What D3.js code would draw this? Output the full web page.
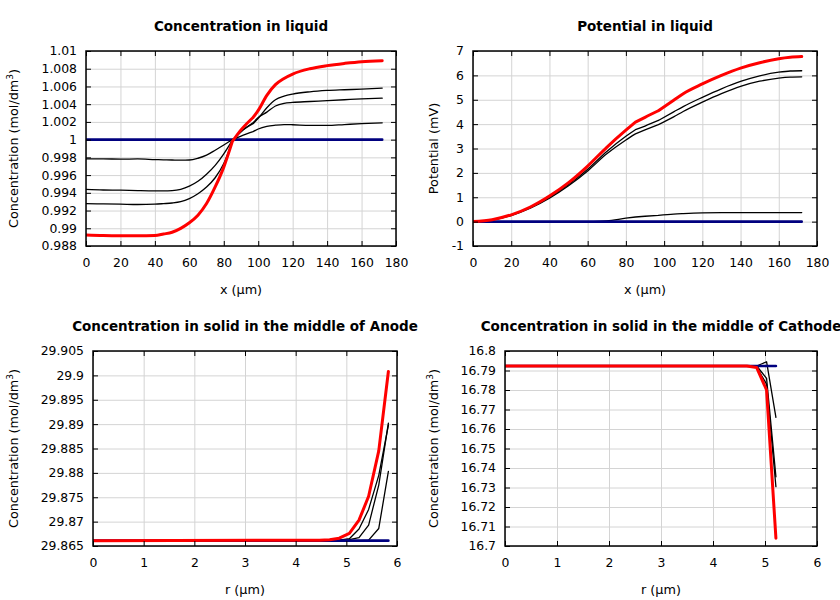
<!DOCTYPE html>
<html><head><meta charset="utf-8">
<script src="https://cdn.jsdelivr.net/npm/d3@7"></script>
<style>
body{margin:0;background:#fff;}
text{font-family:"DejaVu Sans",sans-serif;fill:#000;}
</style></head>
<body><svg id="c" width="840" height="600"></svg>
<script>
// ---------- Panel 1: Concentration in liquid ----------
const liqX = [0,10,20,30,40,45,50,55,60,65,70,75,80,85,90,97,100,105,110,115,120,130,140,150,160,172];
const liqConcRed = [0.98924,0.98918,0.98916,0.98916,0.98918,0.98935,0.98955,0.98999,0.99062,0.99148,0.99279,0.99466,0.9969,0.9998,1.0011,1.0025,1.0033,1.0050,1.0062,1.0069,1.0074,1.0080,1.00835,1.0086,1.0088,1.0089];
const liqConcA   = [0.99279,0.99275,0.99272,0.99268,0.99272,0.99278,0.99285,0.993,0.99335,0.9939,0.99465,0.9957,0.9973,0.99985,1.0009,1.0018,1.0024,1.0036,1.0045,1.0049,1.00514,1.0054,1.00555,1.00563,1.0057,1.00582];
const liqConcB   = [0.99438,0.99432,0.9943,0.99425,0.99422,0.99422,0.99425,0.9944,0.99475,0.9953,0.9961,0.9971,0.9984,0.99995,1.0009,1.0019,1.0025,1.0031,1.0038,1.0041,1.0042,1.0043,1.0044,1.0045,1.0046,1.00468];
const liqConcC   = [0.99783,0.99783,0.9978,0.99782,0.99775,0.99772,0.9977,0.99768,0.9977,0.9979,0.99825,0.9988,0.9994,1.0,1.0004,1.0009,1.0012,1.0015,1.00163,1.0017,1.00168,1.0016,1.0016,1.0017,1.0018,1.0019];
const liqConcInit = [1.0,1.0,1.0,1.0,1.0,1.0,1.0,1.0,1.0,1.0,1.0,1.0,1.0,1.0,1.0,1.0,1.0,1.0,1.0,1.0,1.0,1.0,1.0,1.0,1.0,1.0];

// ---------- Panel 2: Potential in liquid ----------
const potX = [0,10,20,30,40,50,60,70,80,85,90,97,105,110,120,130,140,150,160,166,172];
const potRed  = [0,0.08,0.28,0.6,1.05,1.6,2.28,3.05,3.75,4.08,4.28,4.55,4.98,5.25,5.65,6.0,6.3,6.52,6.68,6.74,6.77];
const potA    = [0,0.07,0.27,0.58,1.0,1.52,2.15,2.88,3.5,3.77,3.92,4.15,4.5,4.72,5.1,5.45,5.75,5.98,6.13,6.18,6.19];
const potB    = [0,0.06,0.25,0.55,0.96,1.47,2.08,2.78,3.35,3.6,3.76,3.98,4.3,4.52,4.9,5.25,5.55,5.76,5.89,5.93,5.94];
const potC    = [0,-0.01,-0.02,-0.03,-0.03,-0.02,-0.01,0.03,0.14,0.19,0.22,0.26,0.31,0.33,0.36,0.37,0.37,0.37,0.37,0.37,0.37];
const potInit = [0,0,0,0,0,0,0,0,0,0,0,0,0,0,0,0,0,0,0,0,0];

// region boundaries along x (anode | separator | cathode), µm
const regionBounds = [85,97];

// ---------- Panel 3: Anode solid ----------
const anodeR = [0,4.47,4.67,4.86,5.06,5.25,5.44,5.64,5.83];
const anodeRed  = [29.8661,29.8662,29.8663,29.8666,29.8676,29.8703,29.8752,29.8845,29.9008];
const anodeA    = [29.8661,29.8661,29.8661,29.8662,29.8665,29.8685,29.8725,29.8795,29.8898];
const anodeB    = [29.8661,29.8661,29.8661,29.8661,29.8663,29.8667,29.8693,29.8775,29.8902];
const anodeC    = [29.8661,29.8661,29.8661,29.8661,29.8661,29.8661,29.8662,29.8686,29.8803];
const anodeInit = [29.8661,29.8661,29.8661,29.8661,29.8661,29.8661,29.8661,29.8661,29.8661];

// ---------- Panel 4: Cathode solid ----------
const cathR = [0,4.65,4.84,5.03,5.21];
const cathRed  = [16.7923,16.7923,16.7915,16.780,16.704];
const cathA    = [16.7923,16.7923,16.7918,16.783,16.7304];
const cathB    = [16.7923,16.7923,16.7923,16.786,16.7355];
const cathC    = [16.7923,16.7923,16.7923,16.7945,16.766];
const cathInit = [16.7923,16.7923,16.7923,16.7923,16.7923];

// tick values
const xTicksMicron = [0,20,40,60,80,100,120,140,160,180];
const yTicksLiqConc = [0.988,0.99,0.992,0.994,0.996,0.998,1,1.002,1.004,1.006,1.008,1.01];
const yTicksPot = [-1,0,1,2,3,4,5,6,7];
const xTicksR = [0,1,2,3,4,5,6];
const yTicksAnode = [29.865,29.87,29.875,29.88,29.885,29.89,29.895,29.9,29.905];
const yTicksCath = [16.7,16.71,16.72,16.73,16.74,16.75,16.76,16.77,16.78,16.79,16.8];

const svg = d3.select("#c");
const fmt = d => String(+d.toFixed(4));

const COL = {red:"#ff0000", black:"#000000", blue:"#00007f"};

function splitSegments(pts, bounds){
  if(!bounds) return [pts];
  const edges = [-Infinity, ...bounds, Infinity];
  const segs = [];
  for(let k=0;k<edges.length-1;k++){
    const s = pts.filter(p=>p[0]>=edges[k] && p[0]<=edges[k+1]);
    if(s.length>1) segs.push(s);
  }
  return segs;
}

function panel(cfg){
  const w = cfg.x1-cfg.x0, h = cfg.y1-cfg.y0;
  const g = svg.append("g").attr("transform",`translate(${cfg.x0},${cfg.y0})`);
  const x = d3.scaleLinear().domain(cfg.xDomain).range([0,w]);
  const y = d3.scaleLinear().domain(cfg.yDomain).range([h,0]);
  // grid
  g.append("g").attr("transform",`translate(0,${h})`)
    .call(d3.axisBottom(x).tickValues(cfg.xTicks).tickSize(-h).tickFormat(""))
    .call(a=>{a.select(".domain").remove();a.selectAll("line").attr("stroke","#d4d4d4").attr("stroke-width",1);});
  g.append("g")
    .call(d3.axisLeft(y).tickValues(cfg.yTicks).tickSize(-w).tickFormat(""))
    .call(a=>{a.select(".domain").remove();a.selectAll("line").attr("stroke","#d4d4d4").attr("stroke-width",1);});
  // series
  const clipId = "clip"+cfg.id;
  g.append("clipPath").attr("id",clipId).append("rect").attr("width",w).attr("height",h);
  const lg = g.append("g").attr("clip-path",`url(#${clipId})`);
  const line = d3.line().x(d=>x(d[0])).y(d=>y(d[1])).curve(cfg.smooth ? d3.curveMonotoneX : d3.curveLinear);
  cfg.series.forEach(s=>{
    const pts = cfg.xs.map((v,i)=>[v,s.vals[i]]);
    const d = splitSegments(pts, cfg.bounds).map(seg=>line(seg)).join("");
    lg.append("path").attr("d",d).attr("fill","none").attr("stroke",s.color)
      .attr("stroke-width",s.width).attr("stroke-linejoin","round").attr("stroke-linecap","round");
  });
  // axes with inward ticks
  const bottom = g.append("g").attr("transform",`translate(0,${h})`)
    .call(d3.axisBottom(x).tickValues(cfg.xTicks).tickSize(-5).tickFormat(fmt));
  const top = g.append("g").call(d3.axisTop(x).tickValues(cfg.xTicks).tickSize(-5).tickFormat(""));
  const left = g.append("g").call(d3.axisLeft(y).tickValues(cfg.yTicks).tickSize(-5).tickPadding(9).tickFormat(fmt));
  const right = g.append("g").attr("transform",`translate(${w},0)`).call(d3.axisRight(y).tickValues(cfg.yTicks).tickSize(-5).tickFormat(""));
  [bottom,top,left,right].forEach(a=>{
    a.select(".domain").remove();
    a.selectAll("line").attr("stroke","#000").attr("stroke-width",1);
    a.selectAll("text").attr("font-family","DejaVu Sans").attr("font-size","12.4px").attr("fill","#000");
  });
  bottom.selectAll("text").attr("dy","0.71em").attr("y",12);
  // frame
  g.append("rect").attr("width",w).attr("height",h).attr("fill","none").attr("stroke","#000").attr("stroke-width",1.5);
  // title
  g.append("text").attr("x",w/2).attr("y",-20).attr("text-anchor","middle")
    .attr("font-weight","bold").attr("font-size","13.5px").text(cfg.title);
  // x label
  g.append("text").attr("x",w/2).attr("y",h+48).attr("text-anchor","middle")
    .attr("font-size","12.8px").text(cfg.xLabel);
  // y label
  const yl = g.append("text").attr("transform",`translate(${cfg.yLabelX-cfg.x0},${h/2}) rotate(-90)`)
    .attr("text-anchor","middle").attr("dy","0.35em").attr("font-size","12.8px");
  if(cfg.sup){
    yl.append("tspan").text(cfg.yLabel);
    yl.append("tspan").attr("baseline-shift","super").attr("font-size","9px").text(cfg.sup);
    yl.append("tspan").text(")");
  } else yl.text(cfg.yLabel);
}

panel({id:1,title:"Concentration in liquid",x0:86,x1:396,y0:51,y1:246,smooth:true,bounds:regionBounds,
  xDomain:[0,180],yDomain:[0.988,1.01],xTicks:xTicksMicron,yTicks:yTicksLiqConc,
  xLabel:"x (µm)",yLabel:"Concentration (mol/dm",sup:"3",yLabelX:14,xs:liqX,
  series:[{vals:liqConcInit,color:COL.blue,width:2.6},{vals:liqConcC,color:COL.black,width:1.3},
          {vals:liqConcB,color:COL.black,width:1.3},{vals:liqConcA,color:COL.black,width:1.3},
          {vals:liqConcRed,color:COL.red,width:3}]});

panel({id:2,title:"Potential in liquid",x0:473,x1:817,y0:51,y1:246,smooth:true,bounds:regionBounds,
  xDomain:[0,180],yDomain:[-1,7],xTicks:xTicksMicron,yTicks:yTicksPot,
  xLabel:"x (µm)",yLabel:"Potential (mV)",yLabelX:434,xs:potX,
  series:[{vals:potC,color:COL.black,width:1.3},{vals:potInit,color:COL.blue,width:2.6},
          {vals:potB,color:COL.black,width:1.3},{vals:potA,color:COL.black,width:1.3},
          {vals:potRed,color:COL.red,width:3}]});

panel({id:3,title:"Concentration in solid in the middle of Anode",x0:93,x1:397,y0:351,y1:546,
  xDomain:[0,6],yDomain:[29.865,29.905],xTicks:xTicksR,yTicks:yTicksAnode,
  xLabel:"r (µm)",yLabel:"Concentration (mol/dm",sup:"3",yLabelX:14,xs:anodeR,
  series:[{vals:anodeC,color:COL.black,width:1.3},{vals:anodeB,color:COL.black,width:1.3},
          {vals:anodeA,color:COL.black,width:1.3},{vals:anodeInit,color:COL.blue,width:2.6},
          {vals:anodeRed,color:COL.red,width:3}]});

panel({id:4,title:"Concentration in solid in the middle of Cathode",x0:505,x1:817,y0:351,y1:546,
  xDomain:[0,6],yDomain:[16.7,16.8],xTicks:xTicksR,yTicks:yTicksCath,
  xLabel:"r (µm)",yLabel:"Concentration (mol/dm",sup:"3",yLabelX:434,xs:cathR,
  series:[{vals:cathC,color:COL.black,width:1.3},{vals:cathB,color:COL.black,width:1.3},
          {vals:cathA,color:COL.black,width:1.3},{vals:cathInit,color:COL.blue,width:2.6},
          {vals:cathRed,color:COL.red,width:3}]});
</script></body></html>
